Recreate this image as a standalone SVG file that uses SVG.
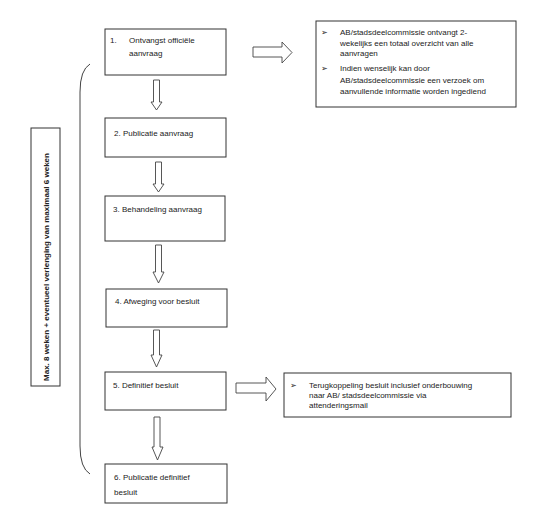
<svg xmlns="http://www.w3.org/2000/svg" width="539" height="526" viewBox="0 0 539 526">
<style>
.box{fill:#fff;stroke:#333;stroke-width:1}
.arr{fill:#fff;stroke:#444;stroke-width:0.9;stroke-linejoin:miter}
text{font-family:"Liberation Sans",Arial,sans-serif;font-size:8px;fill:#222}
.b{font-weight:bold}
</style>
<rect width="539" height="526" fill="#fff"/>
<g id="connectors">
<polygon class="arr" points="153.5,80 159.5,80 159.5,102 162,102 156.5,110 151,102 153.5,102"/>
<polygon class="arr" points="155.5,162 161.5,162 161.5,184 164,184 158.5,192 153,184 155.5,184"/>
<polygon class="arr" points="155.5,245 161.5,245 161.5,272 164,272 158.5,283 153,272 155.5,272"/>
<polygon class="arr" points="153.5,330 159.5,330 159.5,355 162,355 156.5,367 151,355 153.5,355"/>
<polygon class="arr" points="154,417 160,417 160,447 163,447 157.5,460 152,447 154,447"/>
<polygon class="arr" points="253,47 282,47 282,42 292,52.5 282,63 282,57 253,57"/>
<polygon class="arr" points="236,383 266,383 266,377 276,389 266,401 266,393 236,393"/>
<path d="M90,64 Q80,70 80,92 L80,446 Q80,468 90,474" fill="none" stroke="#444" stroke-width="1"/>
</g>
<g id="n1">
<rect class="box" x="105" y="29" width="121" height="46"/>
<text x="110" y="43">1.</text>
<text x="129" y="43">Ontvangst officiële</text>
<text x="129" y="56">aanvraag</text>
</g>
<g id="n2">
<rect class="box" x="105" y="118" width="121" height="39"/>
<text x="114" y="136">2. Publicatie aanvraag</text>
</g>
<g id="n3">
<rect class="box" x="105" y="196" width="120" height="45"/>
<text x="113" y="212">3. Behandeling aanvraag</text>
</g>
<g id="n4">
<rect class="box" x="106" y="289" width="121" height="38"/>
<text x="115" y="304">4. Afweging voor besluit</text>
</g>
<g id="n5">
<rect class="box" x="105" y="372" width="121" height="38"/>
<text x="113" y="388">5. Definitief besluit</text>
</g>
<g id="n6">
<rect class="box" x="105" y="464" width="122" height="39"/>
<text x="114" y="480">6. Publicatie definitief</text>
<text x="114" y="495">besluit</text>
</g>
<g id="info1">
<rect class="box" x="316" y="21" width="200" height="86"/>
<text x="321" y="35">➢</text>
<text x="340" y="35">AB/stadsdeelcommissie ontvangt 2-</text>
<text x="340" y="46">wekelijks een totaal overzicht van alle</text>
<text x="340" y="56">aanvragen</text>
<text x="321" y="71">➢</text>
<text x="340" y="71">Indien wenselijk kan door</text>
<text x="340" y="83">AB/stadsdeelcommissie een verzoek om</text>
<text x="340" y="94">aanvullende informatie worden ingediend</text>
</g>
<g id="info2">
<rect class="box" x="284" y="373" width="227" height="44"/>
<text x="290" y="388">➢</text>
<text x="309" y="388">Terugkoppeling besluit inclusief onderbouwing</text>
<text x="309" y="398">naar AB/ stadsdeelcommissie via</text>
<text x="309" y="408">attenderingsmail</text>
</g>
<g id="duration">
<rect class="box" x="31" y="128" width="29" height="258"/>
<text class="b" transform="translate(49,267) rotate(-90)" text-anchor="middle">Max. 8 weken + eventueel verlenging van maximaal 6 weken</text>
</g>
</svg>
